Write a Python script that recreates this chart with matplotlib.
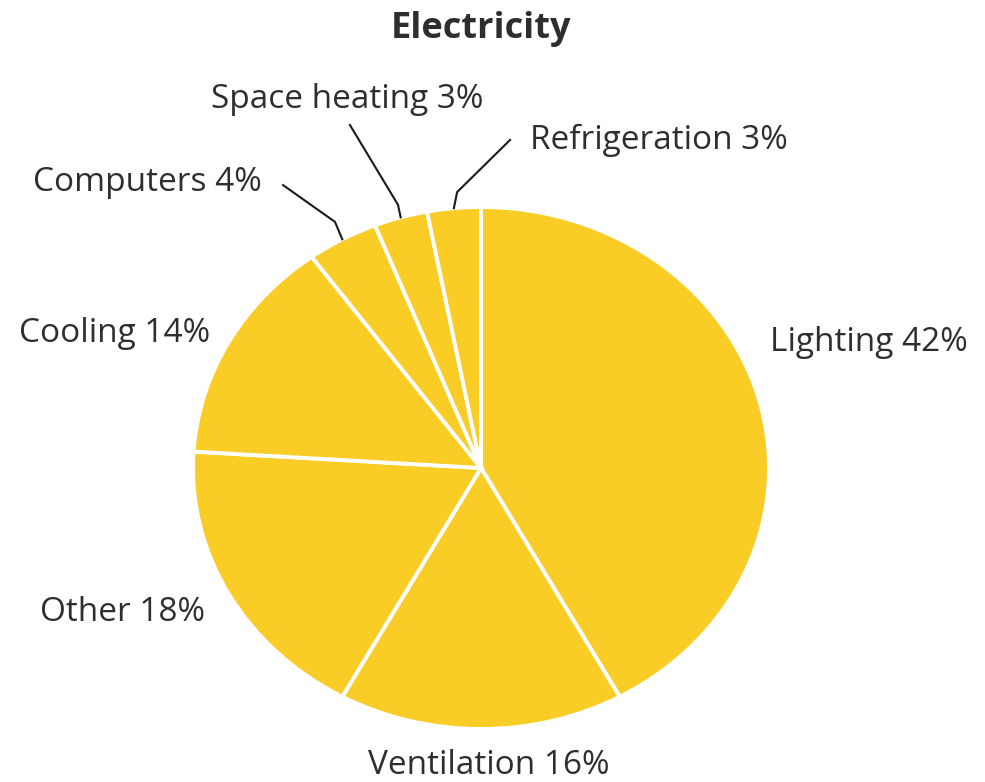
import numpy as np
import matplotlib.pyplot as plt

# Electricity end-use shares (%), clockwise from 12 o'clock
labels = ["Lighting", "Ventilation", "Other", "Cooling",
          "Computers", "Space heating", "Refrigeration"]
shares = [42, 16, 18, 14, 4, 3, 3]

YELLOW = "#F9CD26"
TEXT = "#2e2e2e"
FONT = "Open Sans"

fig = plt.figure(figsize=(9.85, 7.82), dpi=100)
# pie is drawn in a stretched axes, so it comes out slightly wider than tall
ax = fig.add_axes([193 / 985, 53 / 782, 576 / 985, 522 / 782])
wedges, _ = ax.pie(
    shares,
    startangle=90,
    counterclock=False,
    colors=[YELLOW] * len(shares),
    wedgeprops=dict(edgecolor="white", linewidth=2.8),
)
ax.set_aspect("auto")
ax.set_xlim(-1, 1)
ax.set_ylim(-1, 1)
ax.axis("off")
for w in wedges:
    w.set_clip_on(False)

# label placement (data units) and optional leader-line elbows
label_pos = {
    "Lighting": (1.003, 0.479, "left"),
    "Ventilation": (0.028, -1.138, "center"),
    "Other": (-0.958, -0.552, "right"),
    "Cooling": (-0.941, 0.517, "right"),
    "Computers": (-0.76, 1.092, "right"),
    "Space heating": (-0.4635, 1.41, "center"),
    "Refrigeration": (0.17, 1.257, "left"),
}
leaders = {
    "Computers": [(-0.507, 0.943), (-0.6875, 1.084)],
    "Space heating": [(-0.288, 1.008), (-0.455, 1.314)],
    "Refrigeration": [(-0.083, 1.057), (0.101, 1.257)],
}

for w, name, val in zip(wedges, labels, shares):
    x, y, ha = label_pos[name]
    ax.text(x, y, f"{name} {val}%", ha=ha, va="center", fontsize=24,
            family=FONT, color=TEXT, clip_on=False)
    if name in leaders:
        mid = np.deg2rad((w.theta1 + w.theta2) / 2)
        pts = [(np.cos(mid), np.sin(mid))] + leaders[name]
        xs, ys = zip(*pts)
        ax.plot(xs, ys, color="#1a1a1a", linewidth=1.5, clip_on=False)

fig.text(481 / 985, 1 - 29 / 782, "Electricity", ha="center", va="center",
         fontsize=26, family="Open Sans", fontweight="bold", color=TEXT)

fig.savefig("out.png", dpi=100, facecolor="white")
